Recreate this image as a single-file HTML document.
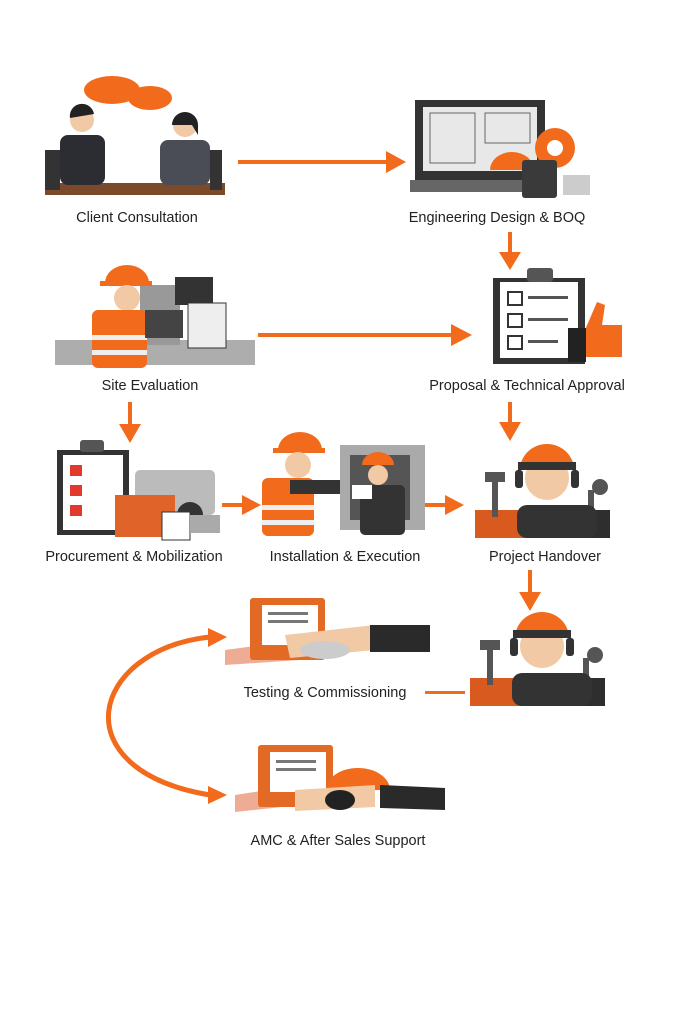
<!DOCTYPE html>
<html><head><meta charset="utf-8"><style>
body{margin:0;background:#fff;}
svg{display:block}
text{font-family:"Liberation Sans",sans-serif;font-size:14.5px;fill:#222;text-anchor:middle}
</style></head><body>
<svg width="683" height="1024" viewBox="0 0 683 1024">
<defs>
<marker id="ah" markerWidth="8" markerHeight="8" refX="4" refY="4" orient="auto" markerUnits="userSpaceOnUse" viewBox="0 0 8 8"><path d="M0,0 L8,4 L0,8 z" fill="#f26a1b"/></marker>
</defs>
<g fill="#f26a1b">
<!-- arrows -->
<rect x="238" y="160" width="150" height="4"/><path d="M386,151 L406,162 L386,173z"/>
<rect x="508" y="232" width="4" height="22"/><path d="M499,252 L510,270 L521,252z"/>
<rect x="258" y="333" width="195" height="4"/><path d="M451,324 L472,335 L451,346z"/>
<rect x="128" y="402" width="4" height="24"/><path d="M119,424 L130,443 L141,424z"/>
<rect x="508" y="402" width="4" height="22"/><path d="M499,422 L510,441 L521,422z"/>
<rect x="222" y="503" width="22" height="4"/><path d="M242,495 L261,505 L242,515z"/>
<rect x="425" y="503" width="22" height="4"/><path d="M445,495 L464,505 L445,515z"/>
<rect x="528" y="570" width="4" height="24"/><path d="M519,592 L530,611 L541,592z"/>
<rect x="425" y="691" width="40" height="3"/>
<path d="M208,628 L227,637 L208,647z"/><path d="M208,786 L227,795 L208,804z"/>
</g>
<path d="M210,637 C90,650 60,770 210,795" fill="none" stroke="#f26a1b" stroke-width="5"/>

<!-- Client consultation -->
<rect x="45" y="183" width="180" height="12" fill="#7a4a2a"/>
<ellipse cx="112" cy="90" rx="28" ry="14" fill="#f26a1b"/><ellipse cx="150" cy="98" rx="22" ry="12" fill="#f26a1b"/>
<circle cx="82" cy="120" r="12" fill="#f1c9a5"/><path d="M70,118 a12,12 0 0 1 24,-4 z" fill="#222"/>
<rect x="60" y="135" width="45" height="50" rx="8" fill="#2b2d33"/>
<circle cx="185" cy="125" r="12" fill="#f1c9a5"/><path d="M172,125 a13,13 0 0 1 26,0 l0,10 l-6,-10z" fill="#222"/>
<rect x="160" y="140" width="50" height="45" rx="8" fill="#4a4d55"/>
<rect x="45" y="150" width="15" height="40" fill="#333"/><rect x="210" y="150" width="12" height="40" fill="#333"/>
<!-- Engineering -->
<rect x="415" y="100" width="130" height="80" fill="#333"/><rect x="423" y="107" width="114" height="64" fill="#e8e8e8"/>
<rect x="430" y="113" width="45" height="50" fill="none" stroke="#666"/><rect x="485" y="113" width="45" height="30" fill="none" stroke="#666"/>
<rect x="410" y="180" width="140" height="12" fill="#666"/>
<circle cx="555" cy="148" r="20" fill="#f26a1b"/><circle cx="555" cy="148" r="8" fill="#fff"/>
<path d="M490,170 a22,18 0 0 1 44,0z" fill="#f26a1b"/>
<rect x="522" y="160" width="35" height="38" rx="3" fill="#3a3a3a"/><rect x="563" y="175" width="27" height="20" fill="#ccc"/>
<!-- Site eval -->
<rect x="55" y="340" width="200" height="25" fill="#777" opacity=".6"/>
<rect x="140" y="285" width="40" height="60" fill="#999"/>
<rect x="175" y="277" width="38" height="28" fill="#333"/><rect x="188" y="303" width="38" height="45" fill="#eee" stroke="#333"/>
<path d="M105,283 a22,18 0 0 1 44,0z" fill="#f26a1b"/><rect x="100" y="281" width="52" height="5" fill="#f26a1b"/>
<circle cx="127" cy="298" r="13" fill="#f1c9a5"/>
<rect x="92" y="310" width="55" height="58" rx="6" fill="#f26a1b"/><rect x="92" y="335" width="55" height="5" fill="#eee"/><rect x="92" y="350" width="55" height="5" fill="#eee"/>
<rect x="145" y="310" width="38" height="28" fill="#444"/>
<!-- Proposal -->
<rect x="493" y="278" width="92" height="86" fill="#333"/><rect x="500" y="282" width="78" height="76" fill="#fff"/>
<rect x="527" y="268" width="26" height="14" rx="3" fill="#555"/>
<g fill="none" stroke="#333" stroke-width="2"><rect x="508" y="292" width="14" height="13"/><rect x="508" y="314" width="14" height="13"/><rect x="508" y="336" width="14" height="13"/></g>
<g fill="#555"><rect x="528" y="296" width="40" height="3"/><rect x="528" y="318" width="40" height="3"/><rect x="528" y="340" width="30" height="3"/></g>
<path d="M585,330 l12,-28 l8,3 l-3,20 l20,0 l0,32 l-37,0z" fill="#f26a1b"/><rect x="568" y="328" width="18" height="34" fill="#222"/>
<!-- Procurement -->
<rect x="57" y="450" width="72" height="85" fill="#333"/><rect x="63" y="455" width="60" height="75" fill="#fff"/>
<rect x="80" y="440" width="24" height="12" rx="3" fill="#555"/>
<g fill="#e03a2a"><rect x="70" y="465" width="12" height="11"/><rect x="70" y="485" width="12" height="11"/><rect x="70" y="505" width="12" height="11"/></g>
<rect x="135" y="470" width="80" height="45" rx="5" fill="#bbb"/><circle cx="190" cy="515" r="13" fill="#333"/>
<rect x="115" y="495" width="60" height="42" fill="#e0642a"/><rect x="162" y="512" width="28" height="28" fill="#fff" stroke="#333"/>
<rect x="190" y="515" width="30" height="18" fill="#aaa"/>
<!-- Installation -->
<rect x="340" y="445" width="85" height="85" fill="#aaa"/><rect x="350" y="455" width="60" height="65" fill="#555"/>
<path d="M278,450 a22,18 0 0 1 44,0z" fill="#f26a1b"/><rect x="273" y="448" width="52" height="5" fill="#f26a1b"/>
<circle cx="298" cy="465" r="13" fill="#f1c9a5"/>
<rect x="262" y="478" width="52" height="58" rx="6" fill="#f26a1b"/><rect x="262" y="505" width="52" height="5" fill="#eee"/><rect x="262" y="520" width="52" height="5" fill="#eee"/>
<rect x="290" y="480" width="50" height="14" fill="#333"/>
<path d="M362,465 a16,13 0 0 1 32,0z" fill="#f26a1b"/><circle cx="378" cy="475" r="10" fill="#f1c9a5"/>
<rect x="360" y="485" width="45" height="50" rx="5" fill="#333"/><rect x="352" y="485" width="20" height="14" fill="#fff"/>
<!-- Handover x2 -->
<g id="ho">
<rect x="475" y="510" width="135" height="28" fill="#2e2e2e"/><rect x="475" y="510" width="52" height="28" fill="#d95a1e"/>
<rect x="492" y="477" width="6" height="40" fill="#555"/><path d="M485,472 h20 v10 h-20z" fill="#555"/>
<rect x="588" y="490" width="6" height="30" fill="#555"/><circle cx="600" cy="487" r="8" fill="#555"/>
<rect x="517" y="505" width="80" height="33" rx="10" fill="#333"/>
<circle cx="547" cy="478" r="22" fill="#f1c9a5"/>
<path d="M520,470 a27,26 0 0 1 54,0 l-54,0z" fill="#f26a1b"/><rect x="518" y="462" width="58" height="8" fill="#333"/>
<rect x="515" y="470" width="8" height="18" rx="3" fill="#333"/><rect x="571" y="470" width="8" height="18" rx="3" fill="#333"/>
</g>
<use href="#ho" transform="translate(-5,168)"/>
<!-- Testing -->
<path d="M225,650 L300,640 L300,660 L225,665z" fill="#e05a2a" opacity=".5"/>
<rect x="250" y="598" width="75" height="62" rx="3" fill="#e36a25"/><rect x="262" y="605" width="56" height="40" fill="#fff"/>
<g fill="#777"><rect x="268" y="612" width="40" height="3"/><rect x="268" y="620" width="40" height="3"/></g>
<path d="M285,635 l90,-10 l0,25 l-85,8z" fill="#f1c9a5"/><ellipse cx="325" cy="650" rx="25" ry="9" fill="#ccc"/>
<path d="M370,625 l60,0 l0,27 l-60,0z" fill="#2a2a2a"/>
<!-- AMC -->
<path d="M235,795 L300,785 L300,805 L235,812z" fill="#e05a2a" opacity=".5"/>
<rect x="258" y="745" width="75" height="62" rx="3" fill="#e36a25"/><rect x="270" y="752" width="56" height="40" fill="#fff"/>
<g fill="#777"><rect x="276" y="760" width="40" height="3"/><rect x="276" y="768" width="40" height="3"/></g>
<path d="M326,790 a32,22 0 0 1 64,0z" fill="#f26a1b"/>
<path d="M295,790 l80,-5 l0,22 l-80,4z" fill="#f1c9a5"/><ellipse cx="340" cy="800" rx="15" ry="10" fill="#222"/>
<path d="M380,785 l65,3 l0,22 l-65,-2z" fill="#2a2a2a"/>

<text x="137" y="222">Client Consultation</text>
<text x="497" y="222">Engineering Design &amp; BOQ</text>
<text x="150" y="390">Site Evaluation</text>
<text x="527" y="390">Proposal &amp; Technical Approval</text>
<text x="134" y="561">Procurement &amp; Mobilization</text>
<text x="345" y="561">Installation &amp; Execution</text>
<text x="545" y="561">Project Handover</text>
<text x="325" y="697">Testing &amp; Commissioning</text>
<text x="338" y="845">AMC &amp; After Sales Support</text>
</svg>
</body></html>
